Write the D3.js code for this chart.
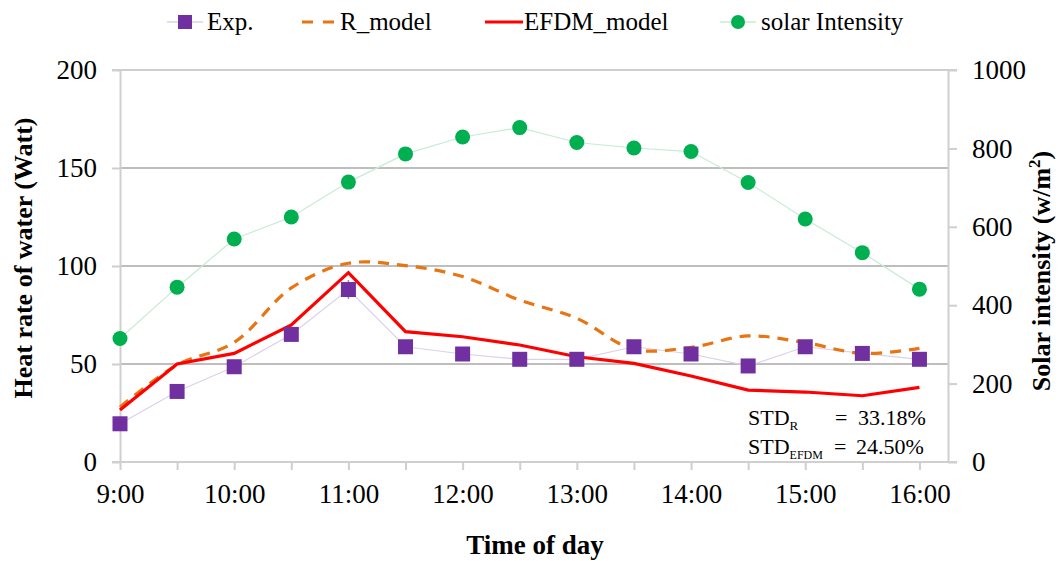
<!DOCTYPE html>
<html>
<head>
<meta charset="utf-8">
<script src="https://cdn.jsdelivr.net/npm/d3@7"></script>
<style>
  html, body { margin: 0; padding: 0; background: #fff; }
  svg { display: block; }
  svg text { font-family: "Liberation Serif", "Times New Roman", serif !important; }
</style>
</head>
<body>
<svg id="chart" width="1060" height="561"></svg>
<script>
// Sampling times (half-hourly)
const times = ["9:00", "9:30", "10:00", "10:30", "11:00", "11:30", "12:00", "12:30",
               "13:00", "13:30", "14:00", "14:30", "15:00", "15:30", "16:00"];

// Heat rate of water (W)
const expHeat  = [19.5, 36, 48.6, 65.1, 88, 58.8, 55.1, 52.4, 52.4, 58.8, 55.1, 49, 58.8, 55.4, 52.4];
const expError = [0, 0, 0, 0, 4.8, 0, 0, 0, 0, 0, 0, 0, 0, 0, 0];
const rModel   = [28, 49.5, 61, 88.8, 101.4, 100.2, 94.6, 82.6, 73.3, 57.5, 58.5, 64.3, 60.9, 55.4, 58];
const efdmModel = [26.5, 50, 55.4, 69.9, 96.6, 66.5, 63.9, 59.7, 53.7, 50.3, 43.9, 36.7, 35.7, 33.8, 38.1];

// Solar intensity (W/m2)
const solar = [315, 446, 569, 625, 714, 786, 829, 853, 815, 801, 792, 713, 620, 534, 441];

// Axis ticks
const heatTicks  = [0, 50, 100, 150, 200];
const solarTicks = [0, 200, 400, 600, 800, 1000];
const hourLabels = ["9:00", "10:00", "11:00", "12:00", "13:00", "14:00", "15:00", "16:00"];

const toHours = s => { const [h, m] = s.split(":").map(Number); return h + m / 60; };
const hours = times.map(toHours);

const svg = d3.select("#chart");
const plot = { left: 120, right: 948, top: 70, bottom: 462 };

const x  = d3.scaleLinear().domain([9, 16.25]).range([plot.left, plot.right]);
const yL = d3.scaleLinear().domain([0, 200]).range([plot.bottom, plot.top]);
const yR = d3.scaleLinear().domain([0, 1000]).range([plot.bottom, plot.top]);

const gridColor = "#a8a8a8";
const axisColor = "#cfcfcf";
const serif = "Liberation Serif";

// Horizontal gridlines
svg.append("g").selectAll("line")
  .data(heatTicks.filter(d => d > 0))
  .join("line")
  .attr("x1", d => d === 200 ? plot.left - 8 : plot.left)
  .attr("x2", d => d === 200 ? plot.right + 9 : plot.right)
  .attr("y1", d => yL(d)).attr("y2", d => yL(d))
  .attr("stroke", d => d === 200 ? axisColor : gridColor)
  .attr("stroke-width", d => d === 200 ? 2 : 1.3);

function styleAxis(g) {
  g.attr("font-family", serif).attr("font-size", 27);
  g.select(".domain").attr("stroke", axisColor).attr("stroke-width", 2);
  g.selectAll(".tick line").attr("stroke", axisColor).attr("stroke-width", 2);
  g.selectAll(".tick text").attr("fill", "#000");
}

// Bottom axis: ticks every half hour, labels on the hour
const xAxis = d3.axisBottom(x)
  .tickValues(hours)
  .tickSize(8)
  .tickSizeOuter(0)
  .tickPadding(14)
  .tickFormat((d, i) => hourLabels.includes(times[i]) ? times[i] : "");
svg.append("g")
  .attr("transform", `translate(0,${plot.bottom})`)
  .call(xAxis)
  .call(styleAxis)
  .call(g => g.select(".domain").attr("d", `M${plot.left - 8},0H${plot.right + 9}`));

// Left axis
svg.append("g")
  .attr("transform", `translate(${plot.left},0)`)
  .call(d3.axisLeft(yL).tickValues(heatTicks).tickFormat(d3.format("d"))
    .tickSize(8).tickSizeOuter(0).tickPadding(15))
  .call(styleAxis);

// Right axis
svg.append("g")
  .attr("transform", `translate(${plot.right},0)`)
  .call(d3.axisRight(yR).tickValues(solarTicks).tickFormat(d3.format("d"))
    .tickSize(9).tickSizeOuter(0).tickPadding(15))
  .call(styleAxis);

// Axis titles
svg.append("text")
  .attr("transform", `translate(32,${(plot.top + plot.bottom) / 2 - 8}) rotate(-90)`)
  .attr("text-anchor", "middle")
  .attr("font-family", serif).attr("font-size", 26).attr("font-weight", "bold")
  .text("Heat rate of water (Watt)");

const rt = svg.append("text")
  .attr("transform", `translate(1050,${(plot.top + plot.bottom) / 2 + 5}) rotate(-90)`)
  .attr("text-anchor", "middle")
  .attr("font-family", serif).attr("font-size", 26).attr("font-weight", "bold");
rt.append("tspan").text("Solar intensity (w/m");
rt.append("tspan").attr("dy", -10).attr("font-size", 17).text("2");
rt.append("tspan").attr("dy", 10).text(")");

svg.append("text")
  .attr("x", 535).attr("y", 554)
  .attr("text-anchor", "middle")
  .attr("font-family", serif).attr("font-size", 27).attr("font-weight", "bold")
  .text("Time of day");

// Series
const idx = d3.range(times.length);

// Solar intensity: thin connector and round markers
svg.append("path")
  .datum(idx)
  .attr("fill", "none").attr("stroke", "#c6ecd3").attr("stroke-width", 1.2)
  .attr("d", d3.line().x(i => x(hours[i])).y(i => yR(solar[i])));
svg.append("g").selectAll("circle")
  .data(idx).join("circle")
  .attr("cx", i => x(hours[i])).attr("cy", i => yR(solar[i]))
  .attr("r", 7.5).attr("fill", "#00b050");

// Experimental: thin connector
svg.append("path")
  .datum(idx)
  .attr("fill", "none").attr("stroke", "#ddd0ea").attr("stroke-width", 1.2)
  .attr("d", d3.line().x(i => x(hours[i])).y(i => yL(expHeat[i])));

// R model: smoothed dashed line
svg.append("path")
  .datum(idx)
  .attr("fill", "none").attr("stroke", "#e87511").attr("stroke-width", 3.2)
  .attr("stroke-dasharray", "11,8")
  .attr("d", d3.line().curve(d3.curveCatmullRom.alpha(0.5))
    .x(i => x(hours[i])).y(i => yL(rModel[i])));

// EFDM model: solid line
svg.append("path")
  .datum(idx)
  .attr("fill", "none").attr("stroke", "#ff0000").attr("stroke-width", 3.2)
  .attr("stroke-linejoin", "miter")
  .attr("d", d3.line().x(i => x(hours[i])).y(i => yL(efdmModel[i])));

// Experimental error bars and square markers
svg.append("g").selectAll("line")
  .data(idx.filter(i => expError[i] > 0)).join("line")
  .attr("x1", i => x(hours[i])).attr("x2", i => x(hours[i]))
  .attr("y1", i => yL(expHeat[i] + expError[i])).attr("y2", i => yL(expHeat[i] - expError[i]))
  .attr("stroke", "#8c8c8c").attr("stroke-width", 1.5);
svg.append("g").selectAll("rect")
  .data(idx).join("rect")
  .attr("x", i => x(hours[i]) - 7.5).attr("y", i => yL(expHeat[i]) - 7.5)
  .attr("width", 15).attr("height", 15)
  .attr("fill", "#7030a0");

// Legend
const legY = 22;
const leg = svg.append("g").attr("font-family", serif).attr("font-size", 25);
// Exp.
leg.append("line").attr("x1", 167).attr("x2", 203).attr("y1", legY).attr("y2", legY)
  .attr("stroke", "#ddd0ea").attr("stroke-width", 1.5);
leg.append("rect").attr("x", 178).attr("y", legY - 7).attr("width", 14).attr("height", 14).attr("fill", "#7030a0");
leg.append("text").attr("x", 207).attr("y", legY + 8).text("Exp.");
// R_model
leg.append("line").attr("x1", 302).attr("x2", 339).attr("y1", legY).attr("y2", legY)
  .attr("stroke", "#e87511").attr("stroke-width", 3.2).attr("stroke-dasharray", "11,10");
leg.append("text").attr("x", 340).attr("y", legY + 8).text("R_model");
// EFDM_model
leg.append("line").attr("x1", 485).attr("x2", 523).attr("y1", legY).attr("y2", legY)
  .attr("stroke", "#ff0000").attr("stroke-width", 3.2);
leg.append("text").attr("x", 524).attr("y", legY + 8).text("EFDM_model");
// solar Intensity
leg.append("line").attr("x1", 720).attr("x2", 756).attr("y1", legY).attr("y2", legY)
  .attr("stroke", "#c6ecd3").attr("stroke-width", 1.5);
leg.append("circle").attr("cx", 738).attr("cy", legY).attr("r", 7).attr("fill", "#00b050");
leg.append("text").attr("x", 761).attr("y", legY + 8).text("solar Intensity");

// Deviation annotation
const note = svg.append("g").attr("font-family", serif).attr("font-size", 22).attr("fill", "#000");
const l1 = note.append("text").attr("x", 748).attr("y", 425);
l1.append("tspan").text("STD");
l1.append("tspan").attr("dy", 5).attr("font-size", 13).text("R");
note.append("text").attr("x", 835).attr("y", 425).text("=");
note.append("text").attr("x", 858).attr("y", 425).text("33.18%");
const l2 = note.append("text").attr("x", 748).attr("y", 454);
l2.append("tspan").text("STD");
l2.append("tspan").attr("dy", 5).attr("font-size", 12).text("EFDM");
note.append("text").attr("x", 834).attr("y", 454).text("=");
note.append("text").attr("x", 856).attr("y", 454).text("24.50%");
</script>
</body>
</html>
